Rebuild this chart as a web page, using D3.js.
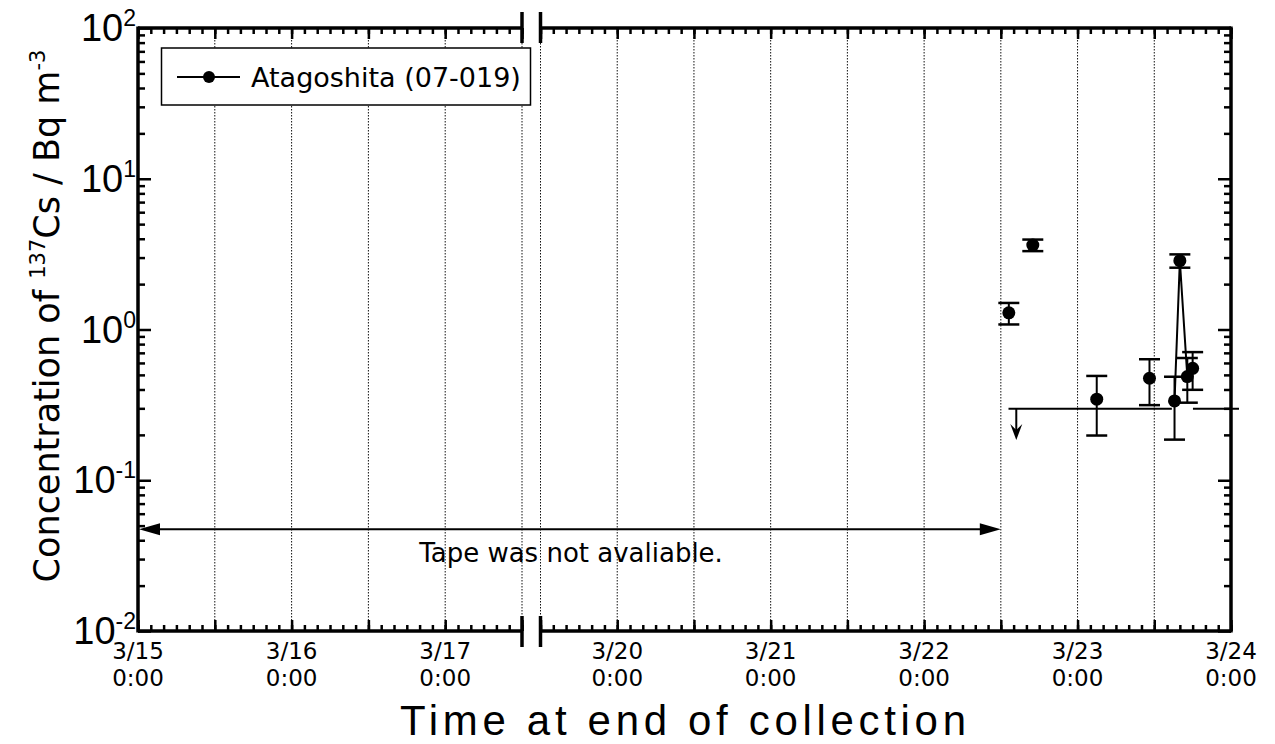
<!DOCTYPE html>
<html><head><meta charset="utf-8">
<script src="https://cdn.jsdelivr.net/npm/d3@7"></script>
<style>
html,body{margin:0;padding:0;background:#fff;}
text{font-family:"Liberation Sans",Arial,Helvetica,sans-serif;fill:#000;}
.dv{font-family:"DejaVu Sans",Verdana,sans-serif;}
</style></head>
<body><svg id="c" width="1275" height="744"></svg>
<script>
// ---- data ----
const segmentStarts = ["2011-03-15T00:00", "2011-03-19T12:00"];
const segmentEnds   = ["2011-03-17T12:00", "2011-03-24T00:00"];
const yTickExponents = [-2, -1, 0, 1, 2];

const detectTimes  = ["2011-03-22T13:15","2011-03-22T17:00","2011-03-23T03:00","2011-03-23T11:15",
                      "2011-03-23T15:10","2011-03-23T16:00","2011-03-23T17:10","2011-03-23T18:00"];
const detectValues = [1.29, 3.63, 0.345, 0.475, 0.336, 2.86, 0.487, 0.553];
const detectErrors = [0.21, 0.32, 0.147, 0.16, 0.15, 0.29, 0.16, 0.155];
const lineGroups   = [0, 1, 2, 3, 4, 4, 4, 4];   // points sharing a group are joined

const ndStarts = ["2011-03-22T13:12", "2011-03-23T18:03"];
const ndEnds   = ["2011-03-23T14:45", "2011-03-24T01:15"];
const ndValues = [0.298, 0.298];
const ndArrowTime = "2011-03-22T14:25";
const ndArrowTo = 0.185;

const tapeFrom = "2011-03-15T00:00";
const tapeTo   = "2011-03-22T12:00";
const tapeValue = 0.0473;
const tapeLabel = "Tape was not avaliable.";
const seriesName = "Atagoshita (07-019)";

// ---- setup ----
const parse = d3.timeParse("%Y-%m-%dT%H:%M");
const svg = d3.select("#c");
const L = 138, R = 1231, T = 28, B = 631;
const segRanges = [[L, 522], [540.5, R]];
const segs = segmentStarts.map((s, i) =>
  d3.scaleTime().domain([parse(s), parse(segmentEnds[i])]).range(segRanges[i]));
const x = d => (d <= segs[0].domain()[1] ? segs[0](d) : segs[1](d));
const y = d3.scaleLog().domain([0.01, 100]).range([B, T]);

// gridlines (every 12 h)
segs.forEach(s => {
  const [a, b] = s.domain();
  d3.timeHour.every(12).range(a, new Date(+b + 1)).forEach(t => {
    const px = s(t);
    if (Math.abs(px - L) < 1 || Math.abs(px - R) < 1) return;
    svg.append("line").attr("x1", px).attr("x2", px).attr("y1", T).attr("y2", B)
      .attr("stroke", "#111").attr("stroke-width", 1).attr("stroke-dasharray", "1.5,1.5");
  });
});

// x axes (bottom & top) for each segment
segs.forEach(s => {
  const [a, b] = s.domain();
  const major = d3.timeHour.every(12).range(a, new Date(+b + 1));
  const minor = d3.timeHour.every(2).range(a, new Date(+b + 1));
  [[B, d3.axisBottom], [T, d3.axisTop]].forEach(([yy, ax]) => {
    const gMin = svg.append("g").attr("transform", `translate(0,${yy})`)
      .call(ax(s).tickValues(minor).tickSize(-6).tickFormat(""));
    const gMaj = svg.append("g").attr("transform", `translate(0,${yy})`)
      .call(ax(s).tickValues(major).tickSize(-11).tickFormat(""));
    [gMin, gMaj].forEach(g => {
      g.select(".domain").remove();
      g.selectAll("line").attr("stroke", "#000").attr("stroke-width", 2.5);
    });
  });
  svg.append("line").attr("x1", s.range()[0]).attr("x2", s.range()[1]).attr("y1", B).attr("y2", B)
    .attr("stroke", "#000").attr("stroke-width", 3.5);
  svg.append("line").attr("x1", s.range()[0]).attr("x2", s.range()[1]).attr("y1", T).attr("y2", T)
    .attr("stroke", "#000").attr("stroke-width", 3.5);
  // labels at 0:00
  major.filter(t => t.getHours() === 0).forEach(t => {
    svg.append("text").attr("class", "dv").attr("x", s(t)).attr("y", 659)
      .attr("text-anchor", "middle").attr("font-size", 23).text(d3.timeFormat("%-m/%-d")(t));
    svg.append("text").attr("class", "dv").attr("x", s(t)).attr("y", 686)
      .attr("text-anchor", "middle").attr("font-size", 23).text(d3.timeFormat("%-H:%M")(t));
  });
});

// break marks
segRanges.forEach((r, i) => {
  const px = i === 0 ? r[1] : r[0];
  [[T - 16, T + 15], [B - 15, B + 16]].forEach(([y1, y2]) =>
    svg.append("line").attr("x1", px).attr("x2", px).attr("y1", y1).attr("y2", y2)
      .attr("stroke", "#000").attr("stroke-width", 3.5));
});

// y axes
const yMajor = yTickExponents.map(e => Math.pow(10, e));
const yMinor = [];
yTickExponents.slice(0, -1).forEach(e => { for (let k = 2; k <= 9; k++) yMinor.push(k * Math.pow(10, e)); });
[[L, d3.axisLeft], [R, d3.axisRight]].forEach(([xx, ax]) => {
  const g1 = svg.append("g").attr("transform", `translate(${xx},0)`)
    .call(ax(y).tickValues(yMinor).tickSize(-7).tickFormat(""));
  const g2 = svg.append("g").attr("transform", `translate(${xx},0)`)
    .call(ax(y).tickValues(yMajor).tickSize(-13).tickFormat(""));
  [g1, g2].forEach(g => {
    g.select(".domain").remove();
    g.selectAll("line").attr("stroke", "#000").attr("stroke-width", 2.5);
  });
  svg.append("line").attr("x1", xx).attr("x2", xx).attr("y1", T - 1.5).attr("y2", B + 1.5)
    .attr("stroke", "#000").attr("stroke-width", 3.5);
});
yTickExponents.forEach(e => {
  const t = svg.append("text").attr("x", 136).attr("y", y(Math.pow(10, e)) + 13)
    .attr("text-anchor", "end").attr("font-size", 38);
  t.append("tspan").text("10");
  t.append("tspan").attr("dy", -15).attr("font-size", 23).text(String(e));
});

// axis titles
svg.append("text").attr("x", 683).attr("y", 735).attr("text-anchor", "middle")
  .attr("font-size", 42).attr("textLength", 566).attr("lengthAdjust", "spacing")
  .text("Time at end of collection");
const yt = svg.append("text").attr("class", "dv").attr("transform", "translate(59,316) rotate(-90)")
  .attr("text-anchor", "middle").attr("font-size", 35);
yt.append("tspan").text("Concentration of  ");
yt.append("tspan").attr("dy", -14).attr("font-size", 21).text("137");
yt.append("tspan").attr("dy", 14).text("Cs / Bq m");
yt.append("tspan").attr("dy", -14).attr("font-size", 21).text("-3");

// tape not available arrow
const ty = y(tapeValue), tx1 = x(parse(tapeFrom)), tx2 = x(parse(tapeTo));
svg.append("line").attr("x1", tx1 + 10).attr("x2", tx2 - 10).attr("y1", ty).attr("y2", ty)
  .attr("stroke", "#000").attr("stroke-width", 2);
svg.append("path").attr("d", `M${tx1 + 1},${ty} L${tx1 + 22},${ty - 6} L${tx1 + 22},${ty + 6} Z`).attr("fill", "#000");
svg.append("path").attr("d", `M${tx2},${ty} L${tx2 - 21},${ty - 6} L${tx2 - 21},${ty + 6} Z`).attr("fill", "#000");
svg.append("text").attr("class", "dv").attr("x", 571).attr("y", 562).attr("text-anchor", "middle")
  .attr("font-size", 26).text(tapeLabel);

// ND lines
ndStarts.forEach((s, i) => {
  svg.append("line").attr("x1", x(parse(s))).attr("x2", x(parse(ndEnds[i])))
    .attr("y1", y(ndValues[i])).attr("y2", y(ndValues[i]))
    .attr("stroke", "#000").attr("stroke-width", 2);
});
const ax0 = x(parse(ndArrowTime)), ay0 = y(ndValues[0]), ay1 = y(ndArrowTo);
svg.append("line").attr("x1", ax0).attr("x2", ax0).attr("y1", ay0).attr("y2", ay1 - 6)
  .attr("stroke", "#000").attr("stroke-width", 2);
svg.append("path").attr("d", `M${ax0},${ay1} L${ax0 - 6},${ay1 - 16} L${ax0},${ay1 - 10} L${ax0 + 6},${ay1 - 16} Z`)
  .attr("fill", "#000");

// series
const pts = detectTimes.map((t, i) => ({t: parse(t), v: detectValues[i], e: detectErrors[i], g: lineGroups[i]}));
d3.groups(pts, d => d.g).forEach(([g, arr]) => {
  if (arr.length < 2) return;
  svg.append("path").attr("d", d3.line().x(d => x(d.t)).y(d => y(d.v))(arr))
    .attr("fill", "none").attr("stroke", "#000").attr("stroke-width", 2);
});
pts.forEach(d => {
  const px = x(d.t), y1 = y(d.v + d.e), y2 = y(d.v - d.e);
  svg.append("line").attr("x1", px).attr("x2", px).attr("y1", y1).attr("y2", y2)
    .attr("stroke", "#000").attr("stroke-width", 2);
  [y1, y2].forEach(yy => svg.append("line").attr("x1", px - 10.5).attr("x2", px + 10.5)
    .attr("y1", yy).attr("y2", yy).attr("stroke", "#000").attr("stroke-width", 2.5));
  svg.append("circle").attr("cx", px).attr("cy", y(d.v)).attr("r", 6.5).attr("fill", "#000");
});

// legend
svg.append("rect").attr("x", 161.5).attr("y", 48).attr("width", 369).attr("height", 57)
  .attr("fill", "#fff").attr("stroke", "#000").attr("stroke-width", 1.5);
svg.append("line").attr("x1", 177).attr("x2", 240).attr("y1", 77).attr("y2", 77)
  .attr("stroke", "#000").attr("stroke-width", 2);
svg.append("circle").attr("cx", 209).attr("cy", 77).attr("r", 6).attr("fill", "#000");
svg.append("text").attr("class", "dv").attr("x", 251).attr("y", 87).attr("font-size", 27).text(seriesName);
</script></body></html>
